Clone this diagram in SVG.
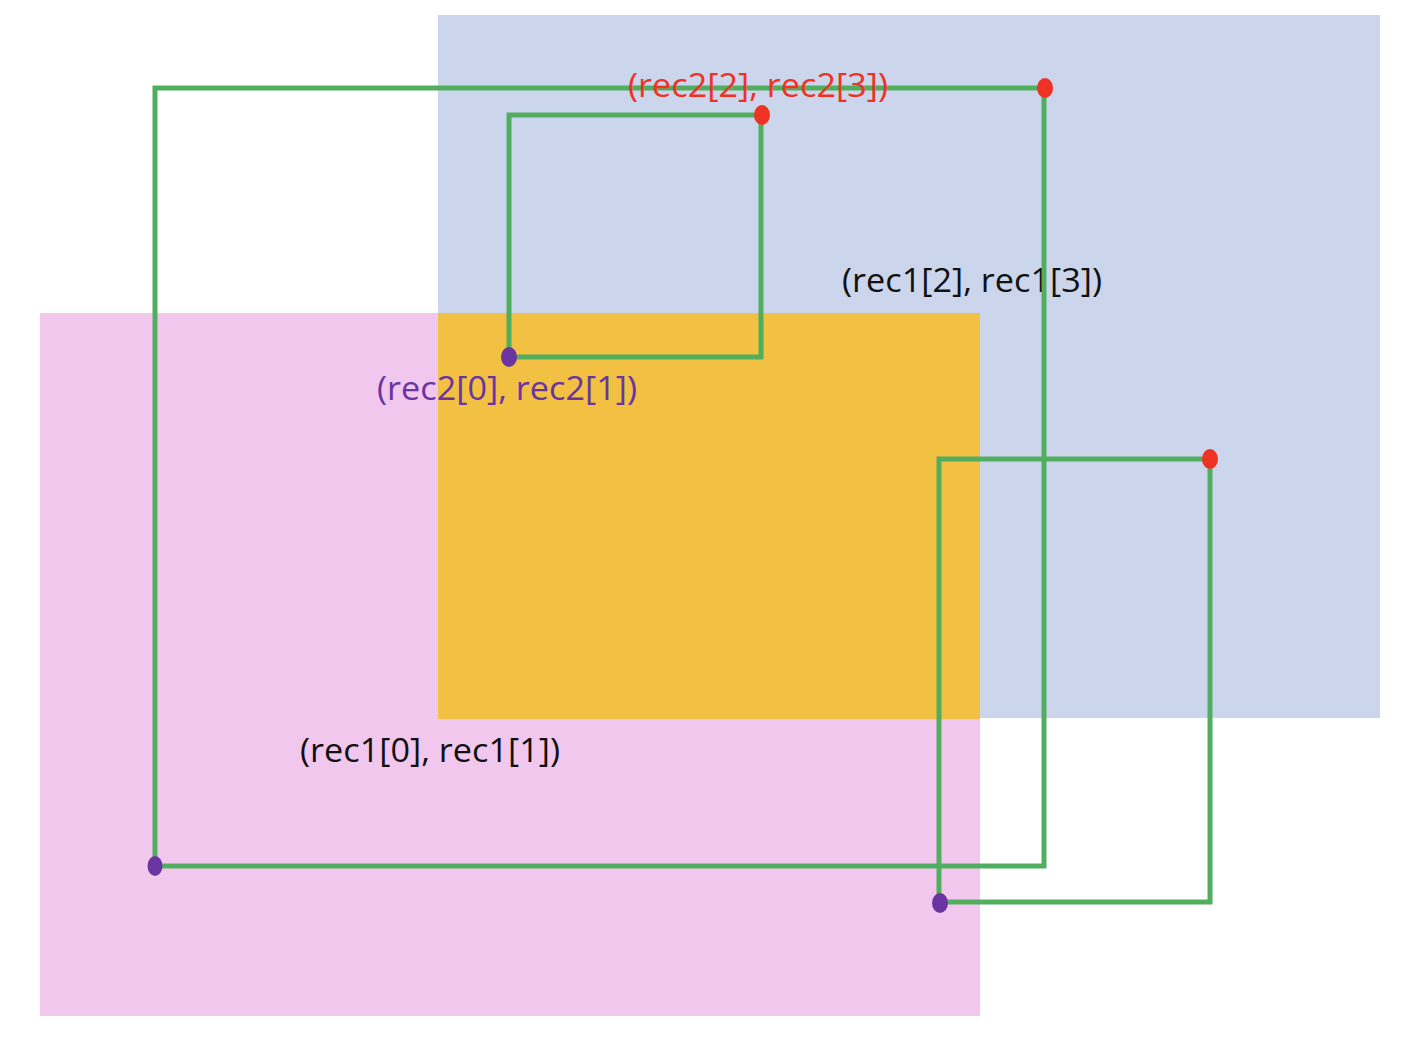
<svg xmlns="http://www.w3.org/2000/svg" width="1420" height="1038" viewBox="0 0 1420 1038">
<style>
.lbl{font-family:"Open Sans","Liberation Sans",Arial,sans-serif;font-size:32px}
.box{fill:none;stroke:#52AE5F;stroke-width:5}
.red{fill:#EE3224}
.pur{fill:#6A35A0}
</style>
<rect width="1420" height="1038" fill="#fff"/>
<g id="areas">
<rect id="rec2-area" x="438" y="15" width="942" height="703" fill="#CBD5EC"/>
<rect id="rec1-area" x="40" y="313" width="940" height="703" fill="#F2C7EE"/>
<rect id="overlap" x="438" y="313" width="542" height="406" fill="#F2C042"/>
</g>
<g id="labels-under">
<text class="lbl" x="842" y="292" fill="#111" textLength="260" lengthAdjust="spacingAndGlyphs">(rec1[2], rec1[3])</text>
<text class="lbl" x="300" y="762" fill="#111" textLength="260" lengthAdjust="spacingAndGlyphs">(rec1[0], rec1[1])</text>
</g>
<g id="connectors">
<rect id="big" class="box" x="155" y="88" width="889" height="778"/>
<rect id="small" class="box" x="509" y="115" width="252" height="242"/>
<rect id="right" class="box" x="939" y="459" width="271" height="443"/>
</g>
<g id="points">
<ellipse class="red" cx="1045" cy="88" rx="8" ry="10"/>
<ellipse class="red" cx="762" cy="115" rx="8" ry="10"/>
<ellipse class="red" cx="1210" cy="459" rx="8" ry="10"/>
<ellipse class="pur" cx="155" cy="866" rx="7.5" ry="10"/>
<ellipse class="pur" cx="509" cy="357" rx="8" ry="10"/>
<ellipse class="pur" cx="940" cy="903" rx="8" ry="10"/>
</g>
<g id="labels-over">
<text class="lbl" x="628" y="97" fill="#EE3224" textLength="260" lengthAdjust="spacingAndGlyphs">(rec2[2], rec2[3])</text>
<text class="lbl" x="377" y="400" fill="#6A35A0" textLength="260" lengthAdjust="spacingAndGlyphs">(rec2[0], rec2[1])</text>
</g>
</svg>
